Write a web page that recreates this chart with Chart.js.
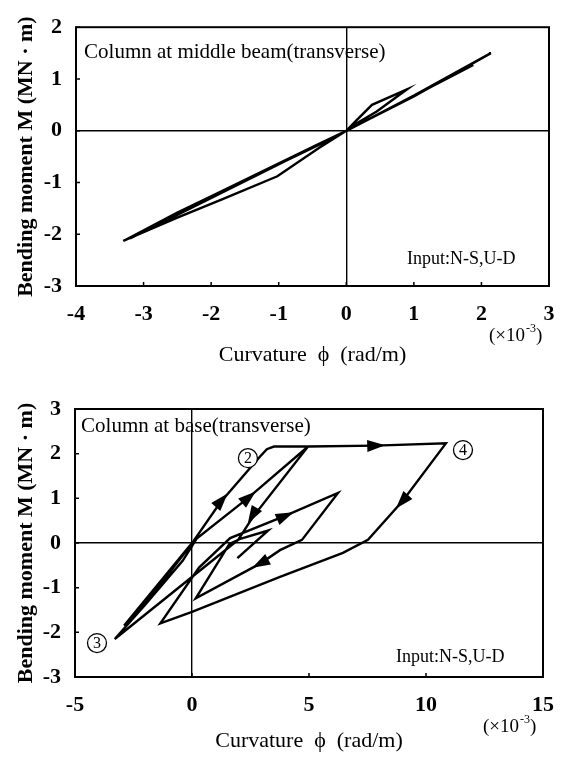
<!DOCTYPE html>
<html>
<head>
<meta charset="utf-8">
<script src="https://cdn.jsdelivr.net/npm/chart.js@4.4.0/dist/chart.umd.min.js"></script>
<style>
body{margin:0;background:#fff;width:571px;height:758px;overflow:hidden}
.box{position:absolute;left:0;width:571px}
</style>
</head>
<body>
<div class="box" style="top:0;height:380px"><canvas id="mid" width="571" height="380"></canvas></div>
<div class="box" style="top:380px;height:378px"><canvas id="base" width="571" height="378"></canvas></div>
<script>
// column at middle beam (curvature x10^-3 rad/m, moment MN.m)
const phiMid = [0, 0.15, 0.38, 0.9, 0.45, 0.1, 0, -0.4, -1.02, -1.83, -2.5, -3.3, -2.5, -1.94, -0.45, 0, 1.0, 2.14, 1.0, 0, -3.2, -2.0, 0, 1.88, 0.05, -3.25, -2.55, -0.4, 0]
const momMid = [0, 0.2, 0.5, 0.8, 0.37, 0.1, 0, -0.33, -0.88, -1.32, -1.68, -2.13, -1.58, -1.23, -0.28, 0, 0.68, 1.5, 0.66, 0, -2.08, -1.3, 0, 1.27, 0.03, -2.1, -1.62, -0.27, 0]
const xTicksMid = [-4, -3, -2, -1, 0, 1, 2, 3]
const yTicksMid = [-3, -2, -1, 0, 1, 2]

// column at base
const phiBase = [0, -2.9, -1.2, -0.1, 1.2, 2.9, 3.2, 3.5, 4.96, 2.6, 1.97, 0.9, -3.3, -2.0, -0.4, 0.2, 2.4, 4.96, 7.83, 10.85, 9.0, 7.52, 6.45, 3.76, 0, -1.35, 0.3, 1.63, 3.95, 6.24, 4.7, 3.76, 2.95, 0.16, 1.6, 2.1, 3.26, 1.94]
const momBase = [0, -1.85, -0.82, -0.08, 0.9, 1.93, 2.1, 2.16, 2.16, 0.58, 0.07, -0.38, -2.15, -1.38, -0.4, 0.1, 1.01, 2.16, 2.18, 2.23, 0.94, 0.07, -0.22, -0.76, -1.54, -1.8, -0.55, 0.11, 0.6, 1.12, 0.07, -0.16, -0.45, -1.24, -0.02, 0.1, 0.28, -0.34]
const xTicksBase = [-5, 0, 5, 10, 15]
const yTicksBase = [-3, -2, -1, 0, 1, 2, 3]

// arrow heads on the base loops: where they sit and the point they head for
const arrowPhi = [1.24, 2.4, 2.6, 7.83, 9.0, 3.95, 2.95]
const arrowM = [0.94, 1.01, 0.63, 2.18, 0.94, 0.6, -0.45]
const arrowToPhi = [2.9, 4.96, 1.97, 10.85, 7.52, 6.24, 0.16]
const arrowToM = [1.93, 2.16, 0.07, 2.23, 0.07, 1.12, -1.24]

// circled step numbers
const markNames = ["2", "3", "4"]
const markPhi = [2.39, -4.06, 11.58]
const markM = [1.9, -2.24, 2.08]

const SERIF = "'Liberation Serif', 'Times New Roman', serif"

function toPoints(xs, ys){
    return xs.map((v, i) => ({x: v, y: ys[i]}))
}

function makeFrame(cfg){
    return {
        id: "frame",
        afterDatasetsDraw(chart){
            const ctx = chart.ctx
            const sx = chart.scales.x, sy = chart.scales.y
            ctx.save()
            ctx.fillStyle = "#000"
            ctx.strokeStyle = "#000"
            const arr = cfg.arrows
            if(arr){
                for(let i = 0; i < arr.phi.length; i++){
                    const px = sx.getPixelForValue(arr.phi[i])
                    const py = sy.getPixelForValue(arr.m[i])
                    const tx = sx.getPixelForValue(arr.toPhi[i])
                    const ty = sy.getPixelForValue(arr.toM[i])
                    ctx.save()
                    ctx.translate(px, py)
                    ctx.rotate(Math.atan2(ty - py, tx - px))
                    ctx.beginPath()
                    ctx.moveTo(10, 0)
                    ctx.lineTo(-8, -6)
                    ctx.lineTo(-8, 6)
                    ctx.closePath()
                    ctx.fill()
                    ctx.restore()
                }
            }
            const mk = cfg.marks
            if(mk){
                ctx.lineWidth = 1.3
                ctx.textAlign = "center"
                ctx.textBaseline = "middle"
                ctx.font = "16px " + SERIF
                for(let i = 0; i < mk.names.length; i++){
                    const px = sx.getPixelForValue(mk.phi[i])
                    const py = sy.getPixelForValue(mk.m[i])
                    ctx.beginPath()
                    ctx.arc(px, py, 9.5, 0, Math.PI * 2)
                    ctx.fillStyle = "#fff"
                    ctx.fill()
                    ctx.stroke()
                    ctx.fillStyle = "#000"
                    ctx.fillText(mk.names[i], px, py + 1)
                }
            }
            ctx.restore()
        },
        afterDraw(chart){
            const ctx = chart.ctx
            const a = chart.chartArea
            const sx = chart.scales.x, sy = chart.scales.y
            ctx.save()
            ctx.strokeStyle = "#000"
            ctx.fillStyle = "#000"
            ctx.lineWidth = 2
            ctx.strokeRect(a.left, a.top, a.right - a.left, a.bottom - a.top)
            ctx.lineWidth = 1.5
            ctx.beginPath()
            for(const t of sx.ticks){
                const px = sx.getPixelForValue(t.value)
                ctx.moveTo(px, a.bottom)
                ctx.lineTo(px, a.bottom - 4)
            }
            for(const t of sy.ticks){
                const py = sy.getPixelForValue(t.value)
                ctx.moveTo(a.left, py)
                ctx.lineTo(a.left + 4, py)
            }
            ctx.stroke()

            ctx.textBaseline = "middle"
            ctx.textAlign = "left"
            ctx.font = "21px " + SERIF
            ctx.fillText(cfg.title, sx.getPixelForValue(cfg.titleAt[0]), sy.getPixelForValue(cfg.titleAt[1]))
            ctx.font = "18px " + SERIF
            ctx.fillText("Input:N-S,U-D", sx.getPixelForValue(cfg.inputAt[0]), sy.getPixelForValue(cfg.inputAt[1]))

            // (x10^-3) multiplier under the last tick
            ctx.textBaseline = "alphabetic"
            let x0 = a.right - 60
            const y0 = a.bottom + 55
            ctx.font = "19px " + SERIF
            ctx.fillText("(×10", x0, y0)
            x0 += ctx.measureText("(×10").width + 1
            ctx.font = "12px " + SERIF
            ctx.fillText("-3", x0, y0 - 9)
            x0 += ctx.measureText("-3").width
            ctx.font = "19px " + SERIF
            ctx.fillText(")", x0, y0)
            ctx.restore()
        }
    }
}

function drawChart(id, cfg){
    const tickFont = {family: SERIF, size: 22, weight: "bold"}
    new Chart(document.getElementById(id), {
        type: "scatter",
        data: {
            datasets: [{
                data: toPoints(cfg.phi, cfg.m),
                showLine: true,
                borderColor: "#000",
                borderWidth: 2.4,
                pointRadius: 0,
                tension: 0,
                fill: false
            }]
        },
        options: {
            responsive: false,
            animation: false,
            events: [],
            layout: {padding: cfg.padding},
            plugins: {
                legend: {display: false},
                tooltip: {enabled: false}
            },
            scales: {
                x: {
                    type: "linear",
                    min: cfg.xTicks[0],
                    max: cfg.xTicks[cfg.xTicks.length - 1],
                    afterBuildTicks: s => { s.ticks = cfg.xTicks.map(v => ({value: v})) },
                    afterFit: s => { s.height = cfg.xAxisH },
                    ticks: {font: tickFont, color: "#000", padding: 15, maxRotation: 0, autoSkip: false},
                    grid: {
                        color: c => (c.tick && c.tick.value === 0) ? "#000" : "rgba(0,0,0,0)",
                        lineWidth: 1.4,
                        drawTicks: false
                    },
                    border: {display: false},
                    title: {
                        display: true,
                        text: "Curvature  \u03d5  (rad/m)",
                        color: "#000",
                        font: {family: SERIF, size: 22},
                        padding: {top: 4, bottom: 4}
                    }
                },
                y: {
                    type: "linear",
                    min: cfg.yTicks[0],
                    max: cfg.yTicks[cfg.yTicks.length - 1],
                    afterBuildTicks: s => { s.ticks = cfg.yTicks.map(v => ({value: v})) },
                    afterFit: s => { s.width = cfg.yAxisW },
                    ticks: {font: tickFont, color: "#000", padding: 14, autoSkip: false},
                    grid: {
                        color: c => (c.tick && c.tick.value === 0) ? "#000" : "rgba(0,0,0,0)",
                        lineWidth: 1.4,
                        drawTicks: false
                    },
                    border: {display: false},
                    title: {
                        display: true,
                        text: "Bending moment M (MN \u00b7 m)",
                        color: "#000",
                        font: {family: SERIF, size: 22, weight: "bold"},
                        padding: {top: 4, bottom: 4}
                    }
                }
            }
        },
        plugins: [makeFrame(cfg)]
    })
}

drawChart("mid", {
    phi: phiMid,
    m: momMid,
    xTicks: xTicksMid,
    yTicks: yTicksMid,
    padding: {left: 9, top: 19, right: 22, bottom: 8},
    yAxisW: 67,
    xAxisH: 86,
    title: "Column at middle beam(transverse)",
    titleAt: [-3.88, 1.52],
    inputAt: [0.9, -2.49]
})

drawChart("base", {
    phi: phiBase,
    m: momBase,
    xTicks: xTicksBase,
    yTicks: yTicksBase,
    padding: {left: 9, top: 29, right: 28, bottom: 0},
    yAxisW: 66,
    xAxisH: 81,
    title: "Column at base(transverse)",
    titleAt: [-4.74, 2.6],
    inputAt: [8.72, -2.55],
    arrows: {phi: arrowPhi, m: arrowM, toPhi: arrowToPhi, toM: arrowToM},
    marks: {names: markNames, phi: markPhi, m: markM}
})
</script>
</body>
</html>
